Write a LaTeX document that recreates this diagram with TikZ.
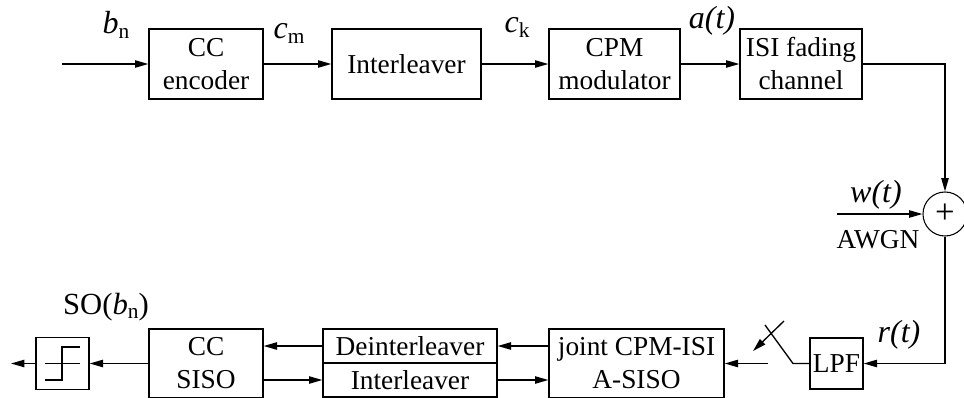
\documentclass[tikz,border=0pt]{standalone}
\usepackage{fontspec}
\setmainfont{Liberation Serif}
\usetikzlibrary{arrows.meta}
% upright subscript used in the signal names
\newcommand{\sbs}[1]{\raisebox{-0.35ex}{\fontsize{16}{16}\selectfont #1}}
\begin{document}
\begin{tikzpicture}[x=0.75pt,y=-0.75pt, line width=1pt,
  font=\fontsize{20.5}{24.75}\selectfont,
  blk/.style 2 args={draw, rectangle, inner sep=0pt, align=center,
    minimum width=#1*0.75pt, minimum height=#2*0.75pt},
  lbl/.style={inner sep=0pt, anchor=base},
  sig/.style={lbl, font=\fontsize{24}{26}\selectfont},
  arr/.style={-{Triangle[length=10pt,width=5.5pt]}}]
\useasboundingbox (0,0) rectangle (964,397);
\clip (0,0) rectangle (964,397);

% transmitter chain
\node[blk={114}{70}] (enc) at (206,64) {CC\\encoder};
\node[blk={149}{70}] (il1) at (406.5,64) {Interleaver};
\node[blk={131}{70}] (cpm) at (614.5,64) {CPM\\modulator};
\node[blk={122}{70}] (isi) at (801,64) {ISI fading\\channel};
\coordinate (in) at (62,64);
\draw[arr] (in) -- (enc);
\draw[arr] (enc) -- (il1);
\draw[arr] (il1) -- (cpm);
\draw[arr] (cpm) -- (isi);

\node[sig] (bn) at (116,33) {\textit{b}\sbs{n}};
\node[sig] (cm) at (289,38) {\textit{c}\sbs{m}};
\node[sig] (ck) at (517,32) {\textit{c}\sbs{k}};
\node[sig] (at) at (712,28) {\textit{a(t)}};

% channel and noise
\node[circle, draw, line width=0.8pt, minimum size=44*0.75pt, inner sep=0pt,
  font=\fontsize{26}{26}\selectfont] (sum) at (945,214) {+};
\draw[arr] (isi.east) -| (sum.north);
\coordinate (win) at (837,214);
\draw[arr] (win) -- (sum.west);
\node[sig] (wt) at (876,202) {\textit{w(t)}};
\node[lbl] (awgn) at (878,248) {AWGN};

% receiver front end
\node[blk={53}{51}] (lpf) at (836.5,363.5) {LPF};
\draw[arr] (sum.south) |- (lpf.east);
\node[sig] (rt) at (899,342) {\textit{r(t)}};

% sampling switch
\coordinate (sw1) at (793,363.5);
\coordinate (sw2) at (765,325);
\coordinate (swa) at (784,321);
\coordinate (swb) at (753,351);
\coordinate (sw0) at (768,363.5);
\draw (lpf.west) -- (sw1) -- (sw2);
\draw[arr] (swa) -- (swb);

% iterative receiver
\node[blk={175}{69}] (joint) at (636.5,363.5) {joint CPM-ISI\\A-SISO};
\node[blk={174}{34}] (deint) at (410,346) {Deinterleaver};
\node[blk={174}{34}] (il2) at (410,380) {Interleaver};
\node[blk={114}{69}] (siso) at (206,363.5) {CC\\SISO};
\draw[arr] (sw0) -- (joint.east);
\draw[arr] (joint.west |- deint) -- (deint.east);
\draw[arr] (il2.east) -- (joint.west |- il2);
\draw[arr] (deint.west) -- (siso.east |- deint);
\draw[arr] (siso.east |- il2) -- (il2.west);

% hard decision
\node[blk={53}{52}] (slc) at (62.5,363.5) {};
\draw (45,363.5) -- (80,363.5);
\draw (45,380) -- (62,380) -- (62,347) -- (80,347);
\draw[arr] (siso.west) -- (slc.east);
\coordinate (out) at (11,363.5);
\draw[arr] (slc.west) -- (out);
\node[lbl, font=\fontsize{23}{24}\selectfont] (so) at (106,314)
  {SO(\textit{b}\sbs{n})};
\end{tikzpicture}
\end{document}
